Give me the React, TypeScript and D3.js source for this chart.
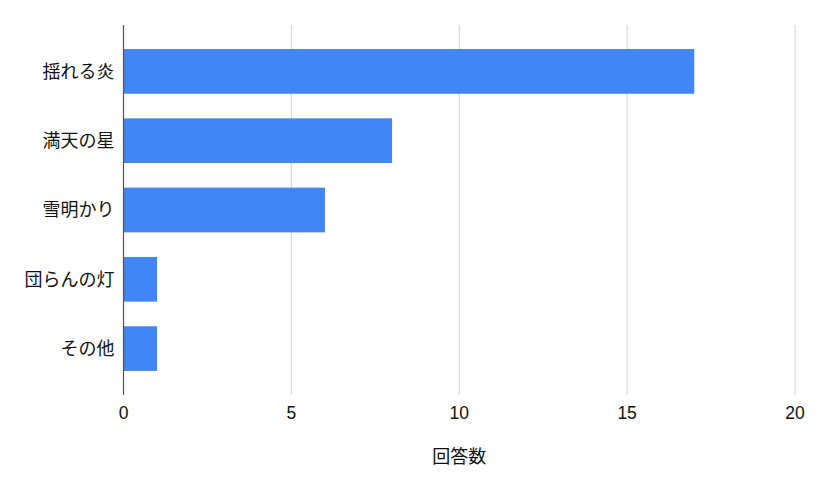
import React from "react";
import * as d3 from "d3";

const categories = ["揺れる炎", "満天の星", "雪明かり", "団らんの灯", "その他"];
const values = [17, 8, 6, 1, 1];
const xTicks = [0, 5, 10, 15, 20];
const xTitle = "回答数";

export default function App() {
  const W = 820, H = 492;
  const left = 123.5, right = 795, top = 25, bottom = 395;
  const x = d3.scaleLinear().domain([0, 20]).range([left, right]);
  const y = d3.scaleBand<string>().domain(categories).range([top, bottom]).paddingInner(0.355).paddingOuter(0.347);
  const font = "'Liberation Sans', 'Noto Sans CJK JP', sans-serif";
  return (
    <svg width={W} height={H} style={{ position: "absolute", left: 0, top: 0, background: "#fff" }} fontFamily={font}>
      {xTicks.filter(t => t !== 0).map(t => (
        <line key={t} x1={x(t)} x2={x(t)} y1={top} y2={bottom} stroke="#d9d9d9" strokeWidth={1.2} />
      ))}
      {categories.map((c, i) => (
        <rect key={c} x={x(0)} y={y(c)} width={x(values[i]) - x(0)} height={y.bandwidth()} fill="#4285F4" />
      ))}
      <line x1={x(0)} x2={x(0)} y1={top} y2={bottom} stroke="#555" strokeWidth={1.2} />
      {categories.map(c => (
        <text key={c} x={x(0) - 9} y={(y(c) as number) + y.bandwidth() / 2} dy="0.35em" textAnchor="end" fontSize={18} fill="#111">{c}</text>
      ))}
      {xTicks.map(t => (
        <text key={t} x={x(t)} y={413} dy="0.35em" textAnchor="middle" fontSize={17.5} fill="#111">{t}</text>
      ))}
      <text x={(left + right) / 2} y={457} dy="0.35em" textAnchor="middle" fontSize={18} fill="#111">{xTitle}</text>
    </svg>
  );
}
